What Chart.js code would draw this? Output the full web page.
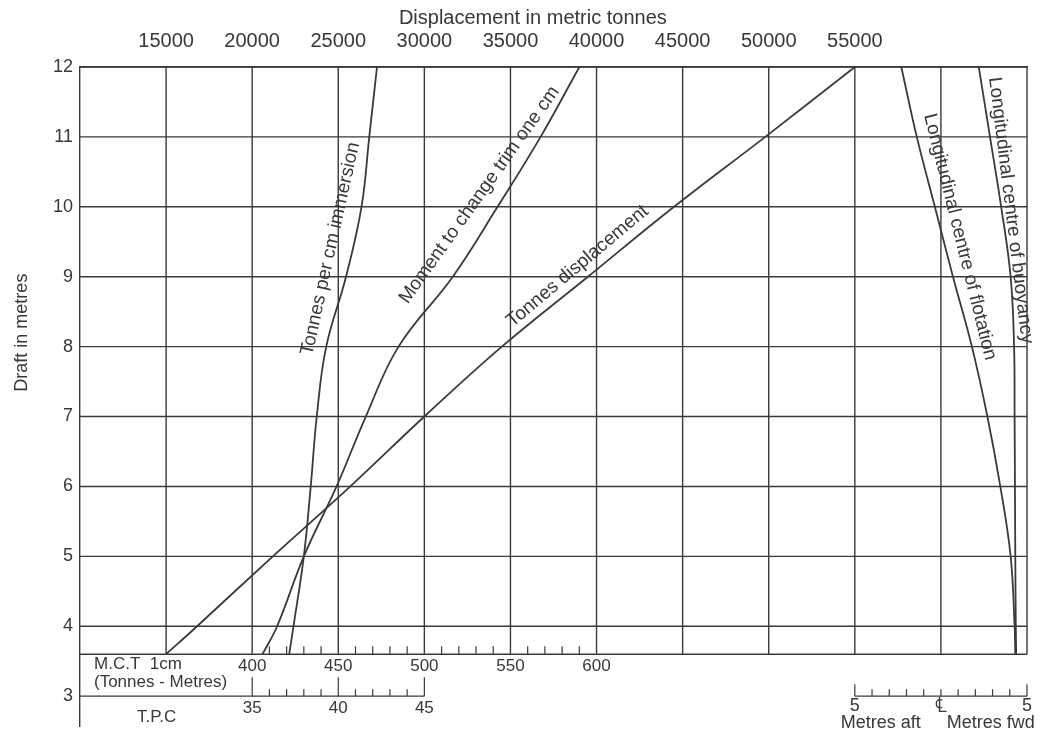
<!DOCTYPE html>
<html>
<head>
<meta charset="utf-8">
<title>Hydrostatic curves</title>
<script src="https://cdn.jsdelivr.net/npm/chart.js@4.4.1/dist/chart.umd.min.js"></script>
<style>
  html, body { margin: 0; padding: 0; background: #fff; }
  #wrap { width: 1047px; height: 744px; position: relative; }
</style>
</head>
<body>
<div id="wrap"><canvas id="hydro"></canvas></div>
<script>
// Values (draft in metres)
var drafts = [3.6, 4, 5, 6, 7, 8, 9, 10, 11, 12];
var displacement = [15000, 16800, 21200, 25700, 30000, 34500, 39500, 44500, 49800, 55000];
var tpc = [37.15, 37.4, 38.0, 38.4, 38.75, 39.3, 40.45, 41.35, 41.8, 42.25];
var mct = [406, 414.5, 430, 449, 466, 485, 516.5, 542.5, 567.5, 590];
var lcf = [4.32, 4.28, 4.05, 3.45, 2.7, 1.8, 0.7, -0.35, -1.4, -2.3];
var lcb = [4.37, 4.35, 4.32, 4.3, 4.28, 4.25, 4.05, 3.5, 2.85, 2.2];

// Tick labels and grid
var draftTicks = [3, 4, 5, 6, 7, 8, 9, 10, 11, 12];
var draftGrid = [4, 5, 6, 7, 8, 9, 10, 11, 12];
var dispTicks = [15000, 20000, 25000, 30000, 35000, 40000, 45000, 50000, 55000];
var dispGrid = [15000, 20000, 25000, 30000, 35000, 40000, 45000, 50000, 55000, 60000, 65000];
var mctTicks = [400, 450, 500, 550, 600];
var tpcTicks = [35, 40, 45];
var lcTicks = [-5, 0, 5];
var lcTickLabels = ['5', '\u2104', '5'];
var mctBase = 3.6;   // draft where the M.C.T. scale sits
var scaleBase = 3;   // draft where T.P.C. and L.C.F. scales sit

var ink = '#3a3a3a';
var textInk = '#383838';
var face = "'Liberation Sans', Arial, Helvetica, sans-serif";

// Labels written along the curves
var curveLabels = [
    { text: 'Tonnes per cm immersion', axis: 'tpc', x: 39.55, y: 9.4, angle: -77.5 },
    { text: 'Moment to change trim one cm', axis: 'mct', x: 532, y: 10.17, angle: -54.5 },
    { text: 'Tonnes displacement', axis: 'disp', x: 38900, y: 9.15, angle: -40 },
    { text: 'Longitudinal centre of flotation', axis: 'lc', x: 1.1, y: 9.57, angle: 76 },
    { text: 'Longitudinal centre of buoyancy', axis: 'lc', x: 4.05, y: 9.95, angle: 83 }
];

function pairs(xs) {
    return xs.map(function (v, i) { return { x: v, y: drafts[i] }; });
}

function curve(label, xs, axis) {
    return {
        label: label,
        data: pairs(xs),
        xAxisID: axis,
        yAxisID: 'y',
        showLine: true,
        borderColor: ink,
        borderWidth: 1.8,
        pointRadius: 0,
        tension: 0.4,
        fill: false
    };
}

function px(chart, id, v) {
    return chart.scales[id].getPixelForValue(v);
}

// Grid, bottom scales and all free text
var paperPlugin = {
    id: 'paper',
    beforeDatasetsDraw: function (chart) {
        var ctx = chart.ctx, a = chart.chartArea;
        var y = function (v) { return px(chart, 'y', v); };
        ctx.save();
        ctx.strokeStyle = ink;
        ctx.lineWidth = 1.4;
        ctx.beginPath();
        draftGrid.forEach(function (d) {
            ctx.moveTo(a.left, y(d));
            ctx.lineTo(a.right, y(d));
        });
        dispGrid.forEach(function (v) {
            var x = px(chart, 'disp', v);
            ctx.moveTo(x, y(12));
            ctx.lineTo(x, y(mctBase));
        });
        ctx.moveTo(a.left, y(mctBase));
        ctx.lineTo(a.right, y(mctBase));
        ctx.moveTo(a.left, y(scaleBase));
        ctx.lineTo(px(chart, 'tpc', 45), y(scaleBase));
        ctx.moveTo(px(chart, 'lc', -5), y(scaleBase));
        ctx.lineTo(px(chart, 'lc', 5), y(scaleBase));
        ctx.stroke();

        // small ticks
        ctx.lineWidth = 1.2;
        ctx.beginPath();
        var x, v, h;
        for (v = 410; v < 600; v += 10) {
            if (v % 50 === 0) continue;
            x = px(chart, 'mct', v);
            ctx.moveTo(x, y(mctBase));
            ctx.lineTo(x, y(mctBase) - 8);
        }
        for (v = 35; v <= 45; v++) {
            x = px(chart, 'tpc', v);
            h = v % 5 === 0 ? 19 : 7;
            ctx.moveTo(x, y(scaleBase));
            ctx.lineTo(x, y(scaleBase) - h);
        }
        for (v = -5; v <= 5; v++) {
            x = px(chart, 'lc', v);
            h = (v === -5 || v === 5) ? 12 : 7;
            ctx.moveTo(x, y(scaleBase));
            ctx.lineTo(x, y(scaleBase) - h);
        }
        ctx.stroke();
        ctx.restore();
    },
    afterDatasetsDraw: function (chart) {
        var ctx = chart.ctx, a = chart.chartArea;
        var y = function (v) { return px(chart, 'y', v); };
        ctx.save();
        ctx.fillStyle = textInk;
        ctx.textBaseline = 'middle';

        // titles
        ctx.font = '20px ' + face;
        ctx.textAlign = 'center';
        ctx.fillText('Displacement in metric tonnes', px(chart, 'disp', 36300), 18);
        ctx.save();
        ctx.translate(22, y(8.2));
        ctx.rotate(-Math.PI / 2);
        ctx.font = '18px ' + face;
        ctx.fillText('Draft in metres', 0, 0);
        ctx.restore();

        // M.C.T. scale
        ctx.font = '17px ' + face;
        mctTicks.forEach(function (v) {
            ctx.fillText(String(v), px(chart, 'mct', v), y(mctBase) + 12);
        });
        ctx.textAlign = 'left';
        ctx.fillText('M.C.T  1cm', a.left + 14, y(mctBase) + 10);
        ctx.fillText('(Tonnes - Metres)', a.left + 14, y(mctBase) + 28);

        // T.P.C. scale
        ctx.textAlign = 'center';
        tpcTicks.forEach(function (v) {
            ctx.fillText(String(v), px(chart, 'tpc', v), y(scaleBase) + 12);
        });
        ctx.textAlign = 'left';
        ctx.fillText('T.P.C', a.left + 57, y(scaleBase) + 21);

        // L.C.F. / L.C.B. scale
        ctx.font = '18px ' + face;
        ctx.textAlign = 'center';
        lcTicks.forEach(function (v, i) {
            ctx.font = (v === 0 ? '21px ' : '18px ') + face;
            ctx.fillText(lcTickLabels[i], px(chart, 'lc', v), y(scaleBase) + 10);
        });
        ctx.font = '18px ' + face;
        ctx.fillText('Metres aft', px(chart, 'lc', -3.5), y(scaleBase) + 27);
        ctx.fillText('Metres fwd', px(chart, 'lc', 2.9), y(scaleBase) + 27);

        // curve names
        ctx.font = '19px ' + face;
        curveLabels.forEach(function (l) {
            ctx.save();
            ctx.translate(px(chart, l.axis, l.x), y(l.y));
            ctx.rotate(l.angle * Math.PI / 180);
            ctx.fillText(l.text, 0, 0);
            ctx.restore();
        });
        ctx.restore();
    }
};

function hiddenAxis(min, max) {
    return { type: 'linear', display: false, min: min, max: max };
}

new Chart(document.getElementById('hydro'), {
    type: 'scatter',
    data: {
        datasets: [
            curve('Tonnes displacement', displacement, 'disp'),
            curve('Tonnes per cm immersion', tpc, 'tpc'),
            curve('Moment to change trim one cm', mct, 'mct'),
            curve('Longitudinal centre of flotation', lcf, 'lc'),
            curve('Longitudinal centre of buoyancy', lcb, 'lc')
        ]
    },
    options: {
        responsive: true,
        maintainAspectRatio: false,
        animation: false,
        devicePixelRatio: 1,
        layout: { padding: { left: 0, top: 0, right: 20, bottom: 14 } },
        plugins: {
            legend: { display: false },
            tooltip: { enabled: false }
        },
        scales: {
            disp: {
                type: 'linear',
                position: 'top',
                min: 10000,
                max: 65000,
                afterBuildTicks: function (s) {
                    s.ticks = dispTicks.map(function (v) { return { value: v }; });
                },
                afterFit: function (s) { s.height = 67; },
                grid: { display: false, drawTicks: false },
                border: { display: true, color: ink, width: 1.4 },
                ticks: {
                    color: textInk,
                    padding: 14,
                    maxRotation: 0,
                    autoSkip: false,
                    font: { family: face, size: 20 },
                    callback: function (v) { return String(v); }
                }
            },
            mct: hiddenAxis(300, 850),
            tpc: hiddenAxis(25, 80),
            lc: hiddenAxis(-50, 5),
            y: {
                type: 'linear',
                position: 'left',
                min: 2.57,
                max: 12,
                afterBuildTicks: function (s) {
                    s.ticks = draftTicks.map(function (v) { return { value: v }; });
                },
                afterFit: function (s) { s.width = 80; },
                grid: { display: false, drawTicks: false },
                border: { display: true, color: ink, width: 1.4 },
                ticks: {
                    color: textInk,
                    padding: 7,
                    autoSkip: false,
                    font: { family: face, size: 18 },
                    callback: function (v) { return String(v); }
                }
            }
        }
    },
    plugins: [paperPlugin]
});
</script>
</body>
</html>
